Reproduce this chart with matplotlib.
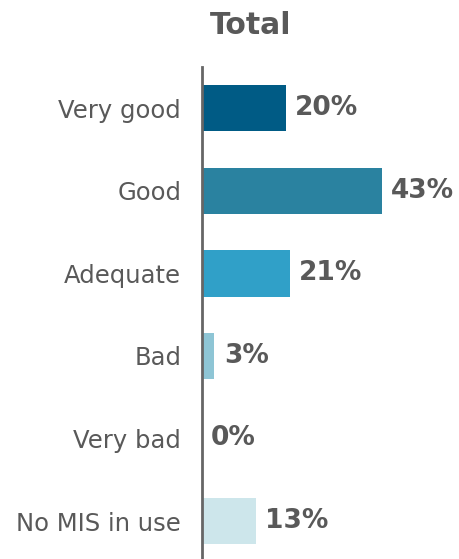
import matplotlib
matplotlib.use("Agg")
import matplotlib.pyplot as plt

# Datos
categorias = ["Very good", "Good", "Adequate", "Bad", "Very bad", "No MIS in use"]
valores = [20, 43, 21, 3, 0, 13]
colores = ["#005b85", "#2a82a0", "#30a0c8", "#8ec5d5", "#8ec5d5", "#cde6eb"]

gris = "#595959"

fig = plt.figure(figsize=(4.59, 5.59), dpi=100)
ax = fig.add_axes([0.44, 0.0, 0.56, 0.88])

y = range(len(categorias))
ax.barh(y, valores, height=0.56, color=colores)

for i, v in zip(y, valores):
    ax.text(v + 2.2, i, "%d%%" % v, va="center", ha="left",
            fontsize=19, fontweight="bold", color=gris)

ax.set_xlim(0, 61.5)
ax.set_ylim(5.46, -0.5)
ax.set_yticks(list(y))
ax.set_yticklabels(categorias, fontsize=17.5, color=gris)
ax.tick_params(axis="y", length=0, pad=15)
ax.set_xticks([])

for s in ["top", "right", "bottom"]:
    ax.spines[s].set_visible(False)
ax.spines["left"].set_color("#666666")
ax.spines["left"].set_linewidth(2)

fig.text(0.545, 0.955, "Total", ha="center", va="center",
         fontsize=21.5, fontweight="bold", color=gris)

fig.savefig("out.png", dpi=100)
